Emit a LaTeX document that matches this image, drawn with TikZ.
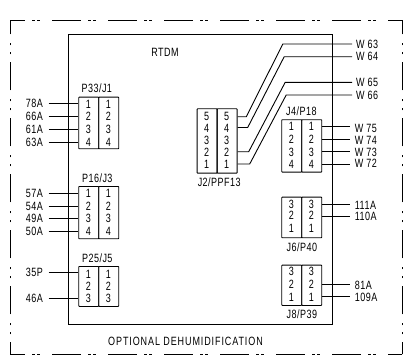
\documentclass[tikz,border=0pt]{standalone}
\usepackage{fontspec}
\setmainfont[FakeStretch=0.75,LetterSpace=4]{Liberation Sans}
\usetikzlibrary{positioning}
\tikzset{
  wire/.style={line width=0.9pt},
  conbox/.style={draw, line width=0.9pt, rounded corners=0.6pt, minimum width=20pt, inner sep=0pt, anchor=north west},
  pin/.style={inner sep=0pt, font=\fontsize{12}{12}\selectfont},
  lbl/.style={inner sep=0pt, font=\fontsize{12}{12}\selectfont},
  hframe/.style={line width=0.9pt, line cap=rect, dash pattern=on 28pt off 8pt on 2pt off 3pt on 2pt off 13pt, dash phase=14pt},
  vframe/.style={line width=0.9pt, line cap=rect, dash pattern=on 28pt off 9pt on 2pt off 7pt on 2pt off 8pt, dash phase=14pt},
}
% connector with two columns: name, x, top y, height, pins
\newcommand{\ConBox}[5]{
  \node[conbox, minimum height=#4pt] (#1a) at (#2,#3) {};
  \node[conbox, minimum height=#4pt] (#1b) at (#2+20,#3) {};
  \foreach \n/\yy in {#5} {
    \node[pin] (#1a\n) at (#2+10,\yy) {\n};
    \node[pin] (#1b\n) at (#2+30,\yy) {\n};
  }
}
\begin{document}
\begin{tikzpicture}[x=1pt,y=1pt]
\useasboundingbox (0,0) rectangle (404,360);

% outer frame
\coordinate (fa) at (10.5,340);
\coordinate (fb) at (402,340);
\coordinate (fc) at (402,6);
\coordinate (fd) at (10.5,6);
\draw[hframe] (fa) -- (fb);
\draw[hframe] (fd) -- (fc);
\draw[vframe] (fa) -- (fd);
\draw[vframe] (fb) -- (fc);

% main box
\coordinate (ma) at (68.5,326);
\coordinate (mb) at (332.7,36);
\draw[wire] (ma) rectangle (mb);
\node[lbl] (rtdm) at (165,307.3) {RTDM};
\node[lbl] (opt) at (185.5,18.3) {\addfontfeature{LetterSpace=7.5}OPTIONAL DEHUMIDIFICATION};

% P33/J1
\ConBox{pa}{78.3}{263.3}{51.6}{1/256,2/243.5,3/230.5,4/218}
\node[lbl, above=3.5pt of pab.north west, xshift=-1.5pt] (patitle) {P33/J1};
\foreach \n/\t/\yy in {1/78A/256.7,2/66A/244,3/61A/230.7,4/63A/218} {
  \node[lbl, anchor=east] (pal\n) at (43,\yy) {\t};
  \coordinate (paw\n) at (48.7,\yy);
  \draw[wire] (paw\n) -- (paa.west |- paw\n);
}

% P16/J3
\ConBox{qa}{78.3}{174}{52.3}{1/166.5,2/154,3/141.5,4/128.5}
\node[lbl, above=3.5pt of qab.north west, xshift=-1pt] (qatitle) {P16/J3};
\foreach \n/\t/\yy in {1/57A/166.7,2/54A/154,3/49A/141.7,4/50A/128.3} {
  \node[lbl, anchor=east] (qal\n) at (43,\yy) {\t};
  \coordinate (qaw\n) at (48.7,\yy);
  \draw[wire] (qaw\n) -- (qaa.west |- qaw\n);
}

% P25/J5
\ConBox{ra}{78.3}{94}{40}{1/86,2/74,3/62}
\node[lbl, above=3.5pt of rab.north west, xshift=-1pt] (ratitle) {P25/J5};
\foreach \n/\t/\yy in {1/35P/87.3,3/46A/61.3} {
  \node[lbl, anchor=east] (ral\n) at (43,\yy) {\t};
  \coordinate (raw\n) at (48.7,\yy);
  \draw[wire] (raw\n) -- (raa.west |- raw\n);
}

% J2/PPF13
\ConBox{sa}{196.7}{251.7}{64.4}{5/244,4/232,3/220,2/208,1/196}
\node[lbl, below=4pt of sab.south west, xshift=2.5pt] (satitle) {J2/PPF13};
\foreach \n/\t/\ya/\xb/\yb in {5/W 63/243.3/246.3/316,4/W 64/232.5/247.7/303.3,2/W 65/208.3/248.7/277.7,1/W 66/196/249.7/265} {
  \coordinate (swb\n) at (\xb,\ya);
  \coordinate (swc\n) at (\xb+36.5,\yb);
  \coordinate (swd\n) at (352,\yb);
  \node[lbl, anchor=west] (sal\n) at (356,\yb) {\t};
  \draw[wire] (sab.east |- swb\n) -- (swb\n) -- (swc\n) -- (swd\n);
}

% J4/P18
\ConBox{ta}{281.3}{240.7}{52.4}{1/233.5,2/221,3/208,4/195.5}
\node[lbl, above=3.5pt of tab.north west] (tatitle) {J4/P18};
\foreach \n/\t/\yy/\yl in {1/W 75/234/232,2/W 74/221/220,3/W 73/208.3/208,4/W 72/195.7/197} {
  \coordinate (taw\n) at (350.3,\yy);
  \node[lbl, anchor=west] (tal\n) at (354.7,\yl) {\t};
  \draw[wire] (tab.east |- taw\n) -- (taw\n);
}

% J6/P40
\ConBox{ua}{281.3}{163.3}{40.6}{3/155.5,2/144.5,1/131.7}
\node[lbl, below=4pt of uab.south west, xshift=0.5pt] (uatitle) {J6/P40};
\foreach \n/\t/\yy/\yl in {3/111A/155.7/155,2/110A/144/143.3} {
  \coordinate (uaw\n) at (350.3,\yy);
  \node[lbl, anchor=west] (ual\n) at (354.7,\yl) {\t};
  \draw[wire] (uab.east |- uaw\n) -- (uaw\n);
}

% J8/P39
\ConBox{va}{281.3}{95.3}{40.3}{3/88.3,2/75.5,1/62.7}
\node[lbl, below=4pt of vab.south west, xshift=0.5pt] (vatitle) {J8/P39};
\foreach \n/\t/\yy/\yl in {2/81A/75.7/75,1/109A/63.3/63} {
  \coordinate (vaw\n) at (350.3,\yy);
  \node[lbl, anchor=west] (val\n) at (354.7,\yl) {\t};
  \draw[wire] (vab.east |- vaw\n) -- (vaw\n);
}
\end{tikzpicture}
\end{document}
